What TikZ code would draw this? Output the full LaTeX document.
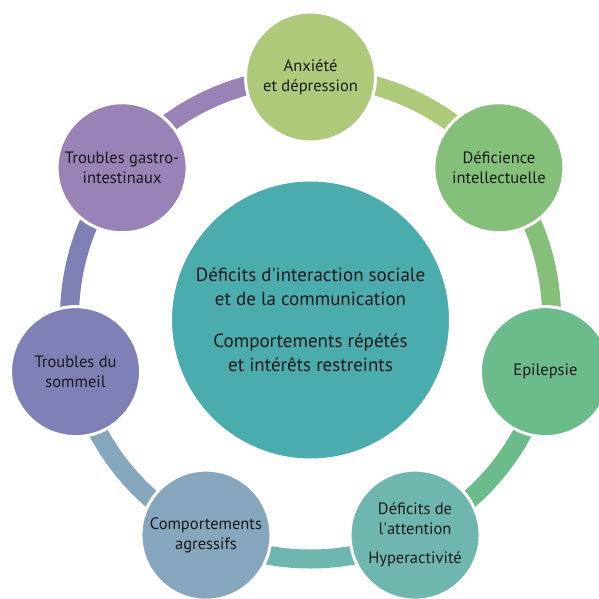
\documentclass[tikz,border=0pt]{standalone}
\usepackage{fontspec}
\setmainfont{PT Sans}
\usepackage{tikz}
\usetikzlibrary{shapes,arrows}
\usetikzlibrary{calc,backgrounds}
\definecolor{anxgreen}{HTML}{AFC97B}
\definecolor{intgreen}{HTML}{84C07A}
\definecolor{epigreen}{HTML}{6BBB8B}
\definecolor{attteal}{HTML}{6FB7AE}
\definecolor{agrblue}{HTML}{85A6BD}
\definecolor{slppurple}{HTML}{7F81B6}
\definecolor{gaspurple}{HTML}{9982B6}
\definecolor{coreteal}{HTML}{4BACAD}
\definecolor{textdark}{HTML}{1A1A1A}
\tikzstyle{coreblock} = [circle, draw=white, line width=3pt, fill=coreteal, text=textdark,
    inner sep=0pt, minimum size=280pt, align=center, font=\fontsize{19}{23.5}\selectfont]
\tikzstyle{sideblock} = [circle, draw=white, line width=3pt, text=textdark,
    inner sep=0pt, minimum size=130pt, align=center, font=\fontsize{16.5}{20}\selectfont]
\tikzstyle{ring} = [draw, line width=19pt, bend left=25.71, looseness=0.9]

\begin{document}
\begin{tikzpicture}[x=1pt, y=1pt]
    \useasboundingbox (-310.5,-281) rectangle (287.5,318);
    \node [coreblock] (core) at (0,-2) {D\'eficits d\textquotesingle interaction sociale \\ et de la communication \\[19pt]
	Comportements r\'ep\'et\'es \\ et int\'er\^ets restreints};
    \node [sideblock, fill=anxgreen] (anxiety) at (90:241) {Anxi\'et\'e \\ et d\'epression};
    \node [sideblock, fill=intgreen] (intellect) at (38.57:241) {D\'eficience \\ intellectuelle};
    \node [sideblock, fill=epigreen] (epilepsy) at (-12.86:241) {Epilepsie};
    \node [sideblock, fill=attteal] (attention) at (-64.29:241) {D\'eficits de \\ l\textquotesingle attention \\[9pt] Hyperactivit\'e};
    \node [sideblock, fill=agrblue] (aggress) at (-115.71:241) {Comportements \\ agressifs};
    \node [sideblock, fill=slppurple] (sleep) at (-167.14:241) {Troubles du \\ sommeil};
    \node [sideblock, fill=gaspurple] (gastro) at (141.43:241) {Troubles gastro- \\ intestinaux};

    % Draw ring edges
    \begin{pgfonlayer}{background}
    \path [ring, draw=anxgreen] (anxiety.center) to (intellect.center);
    \path [ring, draw=intgreen] (intellect.center) to (epilepsy.center);
    \path [ring, draw=epigreen] (epilepsy.center) to (attention.center);
    \path [ring, draw=attteal] (attention.center) to (aggress.center);
    \path [ring, draw=agrblue] (aggress.center) to (sleep.center);
    \path [ring, draw=slppurple] (sleep.center) to (gastro.center);
    \path [ring, draw=gaspurple] (gastro.center) to (anxiety.center);
    \end{pgfonlayer}
\end{tikzpicture}
\end{document}
